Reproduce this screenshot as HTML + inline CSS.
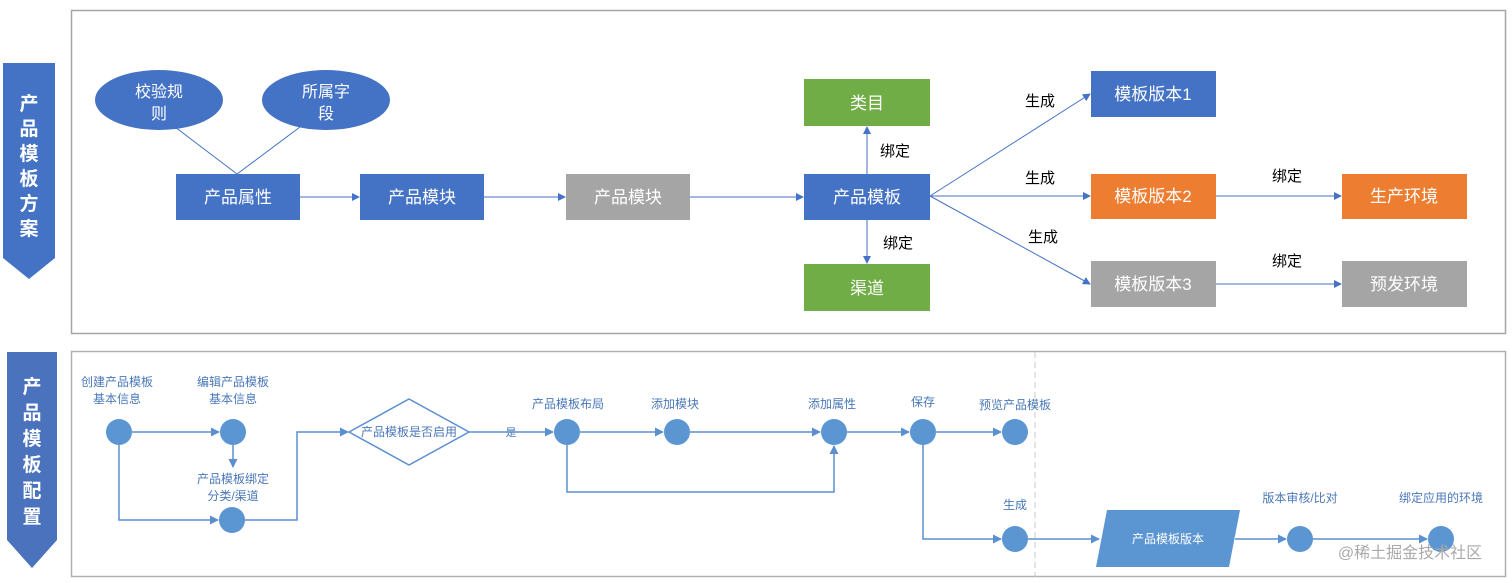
<!DOCTYPE html>
<html><head><meta charset="utf-8"><style>
body{margin:0;background:#fff;}
svg{display:block;font-family:"Liberation Sans","Noto Sans CJK SC",sans-serif;}
</style></head><body>
<svg width="1512" height="583" viewBox="0 0 1512 583" xmlns="http://www.w3.org/2000/svg">
<defs>
<marker id="a" markerWidth="8" markerHeight="8" refX="7" refY="4" orient="auto" markerUnits="userSpaceOnUse"><path d="M0,0 L8,4 L0,8 Z" fill="#4472c4"/></marker>
<marker id="b" markerWidth="9" markerHeight="9" refX="8" refY="4.5" orient="auto" markerUnits="userSpaceOnUse"><path d="M0,0 L9,4.5 L0,9 Z" fill="#5b8fd0"/></marker>
</defs>
<!-- top panel -->
<rect x="71.5" y="10.5" width="1434" height="323" fill="#fff" stroke="#a6a6a6" stroke-width="1.5"/>
<path d="M3,63 H55 V258 L29,279 L3,258 Z" fill="#4472c4"/>
<g fill="#fff" font-size="19" font-weight="bold" text-anchor="middle">
<text x="29" y="110">产</text><text x="29" y="135">品</text><text x="29" y="160">模</text><text x="29" y="185">板</text><text x="29" y="210">方</text><text x="29" y="235">案</text>
</g>
<g stroke="#4472c4" stroke-width="1" fill="none">
<line x1="175" y1="127" x2="237" y2="174"/><line x1="300" y1="127" x2="237" y2="174"/>
<line x1="300" y1="197" x2="359" y2="197" marker-end="url(#a)"/>
<line x1="484" y1="197" x2="565" y2="197" marker-end="url(#a)"/>
<line x1="690" y1="197" x2="803" y2="197" marker-end="url(#a)"/>
<line x1="867" y1="174" x2="867" y2="127" marker-end="url(#a)"/>
<line x1="867" y1="220" x2="867" y2="263" marker-end="url(#a)"/>
<line x1="930" y1="196" x2="1090" y2="94" marker-end="url(#a)"/>
<line x1="930" y1="196" x2="1090" y2="196" marker-end="url(#a)"/>
<line x1="930" y1="196" x2="1090" y2="284" marker-end="url(#a)"/>
<line x1="1216" y1="196" x2="1341" y2="196" marker-end="url(#a)"/>
<line x1="1216" y1="284" x2="1341" y2="284" marker-end="url(#a)"/>
</g>
<ellipse cx="159" cy="100" rx="64" ry="30" fill="#4472c4"/>
<ellipse cx="326" cy="100" rx="64" ry="30" fill="#4472c4"/>
<g fill="#fff" font-size="16" text-anchor="middle">
<text x="159" y="97">校验规</text><text x="159" y="119">则</text>
<text x="326" y="97">所属字</text><text x="326" y="119">段</text>
</g>
<rect x="176" y="174" width="124" height="46" fill="#4472c4"/>
<rect x="360" y="174" width="124" height="46" fill="#4472c4"/>
<rect x="566" y="174" width="124" height="46" fill="#a5a5a5"/>
<rect x="804" y="174" width="126" height="46" fill="#4472c4"/>
<rect x="804" y="79" width="126" height="47" fill="#70ad47"/>
<rect x="804" y="264" width="126" height="47" fill="#70ad47"/>
<rect x="1091" y="71" width="125" height="46" fill="#4472c4"/>
<rect x="1091" y="174" width="125" height="45" fill="#ed7d31"/>
<rect x="1091" y="261" width="125" height="46" fill="#a5a5a5"/>
<rect x="1342" y="174" width="125" height="45" fill="#ed7d31"/>
<rect x="1342" y="261" width="125" height="46" fill="#a5a5a5"/>
<g fill="#fff" font-size="17" text-anchor="middle">
<text x="238" y="203">产品属性</text><text x="422" y="203">产品模块</text><text x="628" y="203">产品模块</text>
<text x="867" y="203">产品模板</text><text x="867" y="109">类目</text><text x="867" y="294">渠道</text>
<text x="1153" y="100">模板版本1</text><text x="1153" y="202">模板版本2</text><text x="1153" y="290">模板版本3</text>
<text x="1404" y="202">生产环境</text><text x="1404" y="290">预发环境</text>
</g>
<g fill="#000" font-size="15" text-anchor="middle">
<text x="895" y="156">绑定</text><text x="898" y="248">绑定</text>
<text x="1040" y="106">生成</text><text x="1040" y="183">生成</text><text x="1043" y="242">生成</text>
<text x="1287" y="181">绑定</text><text x="1287" y="266">绑定</text>
</g>
<!-- bottom panel -->
<rect x="71.5" y="351.5" width="1434" height="225" fill="#fff" stroke="#b0b0b0" stroke-width="1.5"/>
<line x1="1035" y1="352" x2="1035" y2="577" stroke="#c8c8c8" stroke-dasharray="6,4"/>
<path d="M7,352 H57 V540 L32,568 L7,540 Z" fill="#4a72bd"/>
<g fill="#fff" font-size="19" font-weight="bold" text-anchor="middle">
<text x="32" y="393">产</text><text x="32" y="419">品</text><text x="32" y="445">模</text><text x="32" y="471">板</text><text x="32" y="497">配</text><text x="32" y="523">置</text>
</g>
<g stroke="#5b8fd0" stroke-width="1.5" fill="none">
<line x1="132" y1="432" x2="219" y2="432" marker-end="url(#b)"/>
<line x1="233" y1="445" x2="233" y2="467" marker-end="url(#b)"/>
<polyline points="119,445 119,520 218,520" marker-end="url(#b)"/>
<polyline points="245,520 297,520 297,432 348,432" marker-end="url(#b)"/>
<line x1="469" y1="432" x2="553" y2="432" marker-end="url(#b)"/>
<line x1="580" y1="432" x2="663" y2="432" marker-end="url(#b)"/>
<line x1="690" y1="432" x2="820" y2="432" marker-end="url(#b)"/>
<polyline points="567,445 567,492 834,492 834,446" marker-end="url(#b)"/>
<line x1="847" y1="432" x2="909" y2="432" marker-end="url(#b)"/>
<line x1="936" y1="432" x2="1001" y2="432" marker-end="url(#b)"/>
<polyline points="923,445 923,539 1001,539" marker-end="url(#b)"/>
<line x1="1028" y1="539" x2="1099" y2="539" marker-end="url(#b)"/>
<line x1="1235" y1="539" x2="1286" y2="539" marker-end="url(#b)"/>
<line x1="1313" y1="539" x2="1427" y2="539" marker-end="url(#b)"/>
</g>
<polygon points="349,432 409,399 469,432 409,465" fill="#fff" stroke="#5b8fd0" stroke-width="1.5"/>
<polygon points="1107,510 1240,510 1229,567 1096,567" fill="#5b95d2"/>
<g fill="#5b95d2">
<circle cx="119" cy="432" r="13"/><circle cx="233" cy="432" r="13"/><circle cx="232" cy="520" r="13"/>
<circle cx="567" cy="432" r="13"/><circle cx="677" cy="432" r="13"/><circle cx="834" cy="432" r="13"/>
<circle cx="923" cy="432" r="13"/><circle cx="1015" cy="432" r="13"/><circle cx="1015" cy="539" r="13"/>
<circle cx="1300" cy="539" r="13"/><circle cx="1441" cy="539" r="13"/>
</g>
<g fill="#4a78b8" font-size="12" text-anchor="middle">
<text x="117" y="386">创建产品模板</text><text x="117" y="403">基本信息</text>
<text x="233" y="386">编辑产品模板</text><text x="233" y="403">基本信息</text>
<text x="233" y="483">产品模板绑定</text><text x="233" y="500">分类/渠道</text>
<text x="409" y="436">产品模板是否启用</text>
<text x="511" y="436" font-size="11">是</text>
<text x="568" y="408">产品模板布局</text><text x="675" y="408">添加模块</text><text x="832" y="408">添加属性</text>
<text x="923" y="406">保存</text><text x="1015" y="409">预览产品模板</text>
<text x="1015" y="509">生成</text><text x="1300" y="502">版本审核/比对</text><text x="1441" y="502">绑定应用的环境</text>
</g>
<text x="1168" y="543" fill="#fff" font-size="12" text-anchor="middle">产品模板版本</text>
<text x="1410" y="558" fill="#aaa" font-size="16" text-anchor="middle">@稀土掘金技术社区</text>
</svg>
</body></html>
